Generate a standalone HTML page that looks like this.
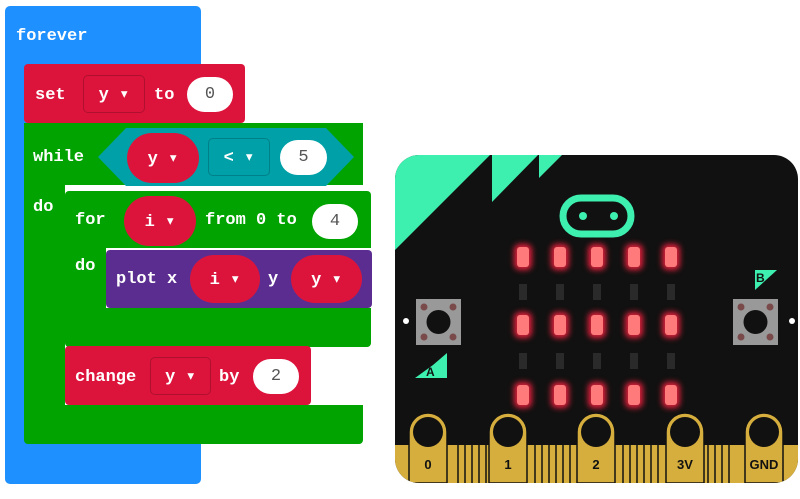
<!DOCTYPE html>
<html><head><style>
body{margin:0;width:800px;height:499px;background:#fff;overflow:hidden;position:relative;font-family:"Liberation Mono","DejaVu Sans Mono",monospace;font-weight:bold;}
.a{position:absolute;box-sizing:border-box}
.t{position:absolute;color:#fff;font-size:17px;line-height:20px}
.pill{position:absolute;border-radius:25px;box-sizing:border-box;color:#fff;font-size:17px;display:flex;align-items:center;justify-content:center}
.w{background:#fff;color:#555;font-weight:normal}
.led{position:absolute;width:12px;height:20px;border-radius:3px;background:#ff7b7b;box-shadow:0 0 6px 3px #e0213c}
.dim{position:absolute;width:8px;height:16px;background:#2a2a2a}
.pin{position:absolute;width:38px;border-radius:19px 19px 0 0;background:#d6ae3d;box-sizing:border-box}
</style></head><body>
<!-- blue forever -->
<div class="a" style="left:5px;top:6px;width:196px;height:478px;background:#1e90ff;border-radius:5px"></div>
<div class="t" style="left:16px;top:27px">forever</div>
<!-- set -->
<div class="a" style="left:24px;top:64px;width:221px;height:59px;background:#dc143c;border-radius:4px"></div>
<div class="t" style="left:35px;top:86px">set</div>
<div class="pill" style="left:83px;top:75px;width:62px;height:38px;border-radius:5px;border:1px solid #b0102f">y ▾</div>
<div class="t" style="left:154px;top:86px">to</div>
<div class="pill w" style="left:187px;top:77px;width:46px;height:35px">0</div>
<!-- while -->
<div class="a" style="left:24px;top:123px;width:339px;height:321px;background:#00a300;border-radius:4px"></div>
<div class="a" style="left:24px;top:123px;width:339px;height:62px;background:#00a300"></div>
<div class="a" style="left:65px;top:185px;width:298px;height:220px;background:#fff"></div>
<div class="t" style="left:33px;top:148px">while</div>
<div class="t" style="left:33px;top:198px">do</div>
<svg class="a" style="left:98px;top:128px" width="256" height="58"><polygon points="0,29 28,0 228,0 256,29 228,58 28,58" fill="#00a0a8"/></svg>
<div class="pill" style="left:127px;top:133px;width:72px;height:50px;background:#dc143c">y ▾</div>
<div class="pill" style="left:208px;top:138px;width:62px;height:38px;border-radius:5px;background:#00a0a8;border:1px solid #008088">&lt; ▾</div>
<div class="pill w" style="left:280px;top:140px;width:47px;height:35px">5</div>
<!-- for -->
<div class="a" style="left:65px;top:191px;width:306px;height:156px;background:#00a300;border-radius:4px"></div>
<div class="a" style="left:106px;top:248px;width:265px;height:60px;background:#fff"></div>
<div class="t" style="left:75px;top:211px">for</div>
<div class="t" style="left:75px;top:257px">do</div>
<div class="pill" style="left:124px;top:196px;width:72px;height:50px;background:#dc143c">i ▾</div>
<div class="t" style="left:205px;top:211px">from 0 to</div>
<div class="pill w" style="left:312px;top:204px;width:46px;height:35px">4</div>
<!-- plot -->
<div class="a" style="left:106px;top:250px;width:266px;height:58px;background:#5c2d91;border-radius:4px"></div>
<div class="t" style="left:116px;top:270px">plot x</div>
<div class="pill" style="left:190px;top:255px;width:70px;height:48px;background:#dc143c">i ▾</div>
<div class="t" style="left:268px;top:270px">y</div>
<div class="pill" style="left:291px;top:255px;width:71px;height:48px;background:#dc143c">y ▾</div>
<!-- change -->
<div class="a" style="left:65px;top:346px;width:246px;height:59px;background:#dc143c;border-radius:4px"></div>
<div class="t" style="left:75px;top:368px">change</div>
<div class="pill" style="left:150px;top:357px;width:61px;height:38px;border-radius:5px;border:1px solid #b0102f">y ▾</div>
<div class="t" style="left:219px;top:368px">by</div>
<div class="pill w" style="left:253px;top:359px;width:46px;height:35px">2</div>

<!-- microbit -->
<div class="a" style="left:395px;top:155px;width:403px;height:328px;background:#111;border-radius:24px;overflow:hidden">
<svg class="a" style="left:0;top:0" width="403" height="328">
<polygon points="0,0 95,0 0,95" fill="#3ef0b0"/>
<polygon points="97,0 143,0 97,47" fill="#3ef0b0"/>
<polygon points="144,0 167,0 144,23" fill="#3ef0b0"/>
<rect x="168" y="43" width="68" height="36" rx="18" fill="none" stroke="#3ef0b0" stroke-width="7"/>
<circle cx="188" cy="61" r="4" fill="#3ef0b0"/><circle cx="219" cy="61" r="4" fill="#3ef0b0"/>
<polygon points="38,210 52,198 52,223 20,223" fill="#3ef0b0"/>
<polygon points="360,115 382,115 360,135" fill="#3ef0b0"/>
<text x="31" y="221" font-family="Liberation Sans" font-weight="bold" font-size="12" fill="#111">A</text>
<text x="361" y="127" font-family="Liberation Sans" font-weight="bold" font-size="12" fill="#111">B</text>
<rect x="21" y="144" width="45" height="46" fill="#999"/><circle cx="43.5" cy="167" r="12" fill="#111"/>
<circle cx="29" cy="152" r="3.5" fill="#7a4a4a"/><circle cx="58" cy="152" r="3.5" fill="#7a4a4a"/><circle cx="29" cy="182" r="3.5" fill="#7a4a4a"/><circle cx="58" cy="182" r="3.5" fill="#7a4a4a"/>
<rect x="338" y="144" width="45" height="46" fill="#999"/><circle cx="360.5" cy="167" r="12" fill="#111"/>
<circle cx="346" cy="152" r="3.5" fill="#7a4a4a"/><circle cx="375" cy="152" r="3.5" fill="#7a4a4a"/><circle cx="346" cy="182" r="3.5" fill="#7a4a4a"/><circle cx="375" cy="182" r="3.5" fill="#7a4a4a"/>
<circle cx="11" cy="166" r="3" fill="#fff"/><circle cx="397" cy="166" r="3" fill="#fff"/>
<rect x="0" y="290" width="403" height="38" fill="#d6ae3d"/>
<g stroke="#111" stroke-width="1.5">
<line x1="63" y1="290" x2="63" y2="328"/><line x1="70" y1="290" x2="70" y2="328"/><line x1="77" y1="290" x2="77" y2="328"/><line x1="84" y1="290" x2="84" y2="328"/><line x1="91" y1="290" x2="91" y2="328"/>
<line x1="140" y1="290" x2="140" y2="328"/><line x1="147" y1="290" x2="147" y2="328"/><line x1="154" y1="290" x2="154" y2="328"/><line x1="161" y1="290" x2="161" y2="328"/><line x1="168" y1="290" x2="168" y2="328"/><line x1="175" y1="290" x2="175" y2="328"/>
<line x1="228" y1="290" x2="228" y2="328"/><line x1="235" y1="290" x2="235" y2="328"/><line x1="242" y1="290" x2="242" y2="328"/><line x1="249" y1="290" x2="249" y2="328"/><line x1="256" y1="290" x2="256" y2="328"/><line x1="263" y1="290" x2="263" y2="328"/>
<line x1="313" y1="290" x2="313" y2="328"/><line x1="320" y1="290" x2="320" y2="328"/><line x1="327" y1="290" x2="327" y2="328"/><line x1="334" y1="290" x2="334" y2="328"/>
</g>
<g fill="#d6ae3d" stroke="#111" stroke-width="1.5">
<path d="M14,328 V277 a19,19 0 0 1 38,0 V328Z"/><path d="M94,328 V277 a19,19 0 0 1 38,0 V328Z"/><path d="M182,328 V277 a19,19 0 0 1 38,0 V328Z"/><path d="M271,328 V277 a19,19 0 0 1 38,0 V328Z"/><path d="M350,328 V277 a19,19 0 0 1 38,0 V328Z"/>
</g>
<g fill="#111"><circle cx="33" cy="277" r="15"/><circle cx="113" cy="277" r="15"/><circle cx="201" cy="277" r="15"/><circle cx="290" cy="277" r="15"/><circle cx="369" cy="277" r="15"/></g>
<g font-family="Liberation Sans" font-weight="bold" font-size="13" fill="#111" text-anchor="middle">
<text x="33" y="314">0</text><text x="113" y="314">1</text><text x="201" y="314">2</text><text x="290" y="314">3V</text><text x="369" y="314">GND</text></g>
</svg>
</div>
<div class="led" style="left:517px;top:247px"></div><div class="led" style="left:554px;top:247px"></div><div class="led" style="left:591px;top:247px"></div><div class="led" style="left:628px;top:247px"></div><div class="led" style="left:665px;top:247px"></div>
<div class="led" style="left:517px;top:315px"></div><div class="led" style="left:554px;top:315px"></div><div class="led" style="left:591px;top:315px"></div><div class="led" style="left:628px;top:315px"></div><div class="led" style="left:665px;top:315px"></div>
<div class="led" style="left:517px;top:385px"></div><div class="led" style="left:554px;top:385px"></div><div class="led" style="left:591px;top:385px"></div><div class="led" style="left:628px;top:385px"></div><div class="led" style="left:665px;top:385px"></div>
<div class="dim" style="left:519px;top:284px"></div><div class="dim" style="left:556px;top:284px"></div><div class="dim" style="left:593px;top:284px"></div><div class="dim" style="left:630px;top:284px"></div><div class="dim" style="left:667px;top:284px"></div>
<div class="dim" style="left:519px;top:353px"></div><div class="dim" style="left:556px;top:353px"></div><div class="dim" style="left:593px;top:353px"></div><div class="dim" style="left:630px;top:353px"></div><div class="dim" style="left:667px;top:353px"></div>
</body></html>
